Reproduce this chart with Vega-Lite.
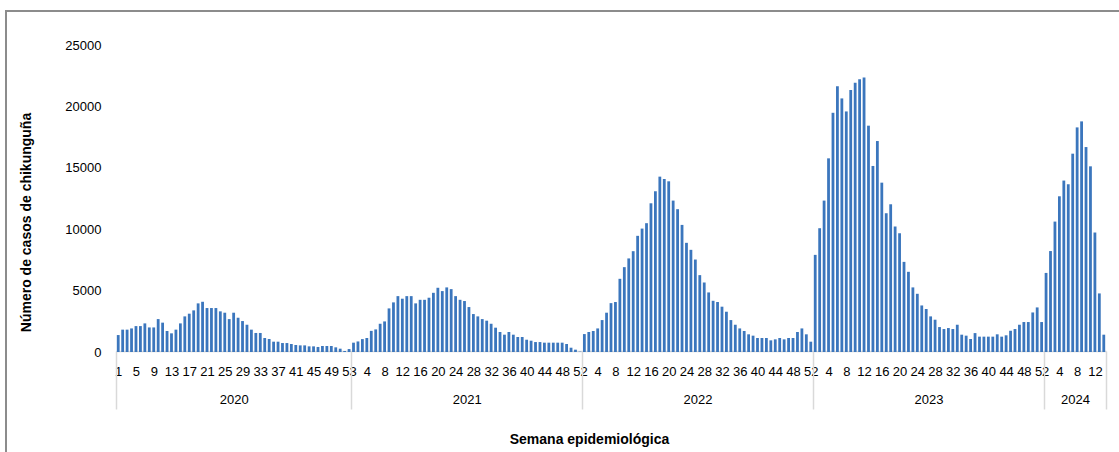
{
  "$schema": "https://vega.github.io/schema/vega-lite/v6.json",
  "width": 1120,
  "height": 450,
  "autosize": {"type": "none"},
  "padding": {"left": 6, "top": 11, "right": 0, "bottom": 0},
  "background": "white",
  "config": {
    "view": {"stroke": "#8c8c8c", "strokeWidth": 2},
    "font": "Liberation Sans",
    "axis": {"labelFont": "Liberation Sans", "titleFont": "Liberation Sans", "labelColor": "#000000", "titleColor": "#000000"}
  },
  "data": {"values": [
    {"year":2020,"week":1,"i":1,"cases":1380},{"year":2020,"week":2,"i":2,"cases":1820},{"year":2020,"week":3,"i":3,"cases":1820},{"year":2020,"week":4,"i":4,"cases":1920},{"year":2020,"week":5,"i":5,"cases":2110},{"year":2020,"week":6,"i":6,"cases":2110},{"year":2020,"week":7,"i":7,"cases":2330},{"year":2020,"week":8,"i":8,"cases":2000},{"year":2020,"week":9,"i":9,"cases":2000},{"year":2020,"week":10,"i":10,"cases":2680},
    {"year":2020,"week":11,"i":11,"cases":2390},{"year":2020,"week":12,"i":12,"cases":1710},{"year":2020,"week":13,"i":13,"cases":1520},{"year":2020,"week":14,"i":14,"cases":1820},{"year":2020,"week":15,"i":15,"cases":2330},{"year":2020,"week":16,"i":16,"cases":2900},{"year":2020,"week":17,"i":17,"cases":3120},{"year":2020,"week":18,"i":18,"cases":3390},{"year":2020,"week":19,"i":19,"cases":3960},{"year":2020,"week":20,"i":20,"cases":4090},
    {"year":2020,"week":21,"i":21,"cases":3580},{"year":2020,"week":22,"i":22,"cases":3580},{"year":2020,"week":23,"i":23,"cases":3580},{"year":2020,"week":24,"i":24,"cases":3310},{"year":2020,"week":25,"i":25,"cases":3200},{"year":2020,"week":26,"i":26,"cases":2680},{"year":2020,"week":27,"i":27,"cases":3200},{"year":2020,"week":28,"i":28,"cases":2790},{"year":2020,"week":29,"i":29,"cases":2520},{"year":2020,"week":30,"i":30,"cases":2220},
    {"year":2020,"week":31,"i":31,"cases":1820},{"year":2020,"week":32,"i":32,"cases":1550},{"year":2020,"week":33,"i":33,"cases":1550},{"year":2020,"week":34,"i":34,"cases":1140},{"year":2020,"week":35,"i":35,"cases":1060},{"year":2020,"week":36,"i":36,"cases":840},{"year":2020,"week":37,"i":37,"cases":840},{"year":2020,"week":38,"i":38,"cases":730},{"year":2020,"week":39,"i":39,"cases":730},{"year":2020,"week":40,"i":40,"cases":650},
    {"year":2020,"week":41,"i":41,"cases":570},{"year":2020,"week":42,"i":42,"cases":540},{"year":2020,"week":43,"i":43,"cases":540},{"year":2020,"week":44,"i":44,"cases":460},{"year":2020,"week":45,"i":45,"cases":460},{"year":2020,"week":46,"i":46,"cases":410},{"year":2020,"week":47,"i":47,"cases":490},{"year":2020,"week":48,"i":48,"cases":490},{"year":2020,"week":49,"i":49,"cases":490},{"year":2020,"week":50,"i":50,"cases":380},
    {"year":2020,"week":51,"i":51,"cases":270},{"year":2020,"week":52,"i":52,"cases":80},{"year":2020,"week":53,"i":53,"cases":240},
    {"year":2021,"week":1,"i":54,"cases":760},{"year":2021,"week":2,"i":55,"cases":860},{"year":2021,"week":3,"i":56,"cases":1050},{"year":2021,"week":4,"i":57,"cases":1140},{"year":2021,"week":5,"i":58,"cases":1720},{"year":2021,"week":6,"i":59,"cases":1840},{"year":2021,"week":7,"i":60,"cases":2300},{"year":2021,"week":8,"i":61,"cases":2490},{"year":2021,"week":9,"i":62,"cases":3550},{"year":2021,"week":10,"i":63,"cases":4040},
    {"year":2021,"week":11,"i":64,"cases":4550},{"year":2021,"week":12,"i":65,"cases":4340},{"year":2021,"week":13,"i":66,"cases":4550},{"year":2021,"week":14,"i":67,"cases":4550},{"year":2021,"week":15,"i":68,"cases":3960},{"year":2021,"week":16,"i":69,"cases":4250},{"year":2021,"week":17,"i":70,"cases":4250},{"year":2021,"week":18,"i":71,"cases":4420},{"year":2021,"week":19,"i":72,"cases":4820},{"year":2021,"week":20,"i":73,"cases":5230},
    {"year":2021,"week":21,"i":74,"cases":4960},{"year":2021,"week":22,"i":75,"cases":5260},{"year":2021,"week":23,"i":76,"cases":5120},{"year":2021,"week":24,"i":77,"cases":4550},{"year":2021,"week":25,"i":78,"cases":4250},{"year":2021,"week":26,"i":79,"cases":4150},{"year":2021,"week":27,"i":80,"cases":3660},{"year":2021,"week":28,"i":81,"cases":3090},{"year":2021,"week":29,"i":82,"cases":2900},{"year":2021,"week":30,"i":83,"cases":2680},
    {"year":2021,"week":31,"i":84,"cases":2550},{"year":2021,"week":32,"i":85,"cases":2300},{"year":2021,"week":33,"i":86,"cases":1980},{"year":2021,"week":34,"i":87,"cases":1630},{"year":2021,"week":35,"i":88,"cases":1410},{"year":2021,"week":36,"i":89,"cases":1630},{"year":2021,"week":37,"i":90,"cases":1410},{"year":2021,"week":38,"i":91,"cases":1220},{"year":2021,"week":39,"i":92,"cases":1220},{"year":2021,"week":40,"i":93,"cases":1000},
    {"year":2021,"week":41,"i":94,"cases":920},{"year":2021,"week":42,"i":95,"cases":810},{"year":2021,"week":43,"i":96,"cases":810},{"year":2021,"week":44,"i":97,"cases":760},{"year":2021,"week":45,"i":98,"cases":760},{"year":2021,"week":46,"i":99,"cases":760},{"year":2021,"week":47,"i":100,"cases":760},{"year":2021,"week":48,"i":101,"cases":760},{"year":2021,"week":49,"i":102,"cases":650},{"year":2021,"week":50,"i":103,"cases":350},
    {"year":2021,"week":51,"i":104,"cases":190},{"year":2021,"week":52,"i":105,"cases":30},
    {"year":2022,"week":1,"i":106,"cases":1460},{"year":2022,"week":2,"i":107,"cases":1630},{"year":2022,"week":3,"i":108,"cases":1710},{"year":2022,"week":4,"i":109,"cases":1920},{"year":2022,"week":5,"i":110,"cases":2600},{"year":2022,"week":6,"i":111,"cases":3200},{"year":2022,"week":7,"i":112,"cases":3980},{"year":2022,"week":8,"i":113,"cases":4070},{"year":2022,"week":9,"i":114,"cases":5960},{"year":2022,"week":10,"i":115,"cases":6910},
    {"year":2022,"week":11,"i":116,"cases":7620},{"year":2022,"week":12,"i":117,"cases":8210},{"year":2022,"week":13,"i":118,"cases":9460},{"year":2022,"week":14,"i":119,"cases":10050},{"year":2022,"week":15,"i":120,"cases":10490},{"year":2022,"week":16,"i":121,"cases":12110},{"year":2022,"week":17,"i":122,"cases":13090},{"year":2022,"week":18,"i":123,"cases":14280},{"year":2022,"week":19,"i":124,"cases":14090},{"year":2022,"week":20,"i":125,"cases":13900},
    {"year":2022,"week":21,"i":126,"cases":12330},{"year":2022,"week":22,"i":127,"cases":11630},{"year":2022,"week":23,"i":128,"cases":10350},{"year":2022,"week":24,"i":129,"cases":8890},{"year":2022,"week":25,"i":130,"cases":8320},{"year":2022,"week":26,"i":131,"cases":7530},{"year":2022,"week":27,"i":132,"cases":6260},{"year":2022,"week":28,"i":133,"cases":5660},{"year":2022,"week":29,"i":134,"cases":4850},{"year":2022,"week":30,"i":135,"cases":4170},
    {"year":2022,"week":31,"i":136,"cases":4070},{"year":2022,"week":32,"i":137,"cases":3690},{"year":2022,"week":33,"i":138,"cases":3280},{"year":2022,"week":34,"i":139,"cases":2600},{"year":2022,"week":35,"i":140,"cases":2220},{"year":2022,"week":36,"i":141,"cases":1920},{"year":2022,"week":37,"i":142,"cases":1710},{"year":2022,"week":38,"i":143,"cases":1440},{"year":2022,"week":39,"i":144,"cases":1330},{"year":2022,"week":40,"i":145,"cases":1140},
    {"year":2022,"week":41,"i":146,"cases":1140},{"year":2022,"week":42,"i":147,"cases":1140},{"year":2022,"week":43,"i":148,"cases":950},{"year":2022,"week":44,"i":149,"cases":1030},{"year":2022,"week":45,"i":150,"cases":1140},{"year":2022,"week":46,"i":151,"cases":1030},{"year":2022,"week":47,"i":152,"cases":1140},{"year":2022,"week":48,"i":153,"cases":1140},{"year":2022,"week":49,"i":154,"cases":1630},{"year":2022,"week":50,"i":155,"cases":1920},
    {"year":2022,"week":51,"i":156,"cases":1440},{"year":2022,"week":52,"i":157,"cases":840},
    {"year":2023,"week":1,"i":158,"cases":7910},{"year":2023,"week":2,"i":159,"cases":10080},{"year":2023,"week":3,"i":160,"cases":12330},{"year":2023,"week":4,"i":161,"cases":15770},{"year":2023,"week":5,"i":162,"cases":19480},{"year":2023,"week":6,"i":163,"cases":21650},{"year":2023,"week":7,"i":164,"cases":20650},{"year":2023,"week":8,"i":165,"cases":19590},{"year":2023,"week":9,"i":166,"cases":21330},{"year":2023,"week":10,"i":167,"cases":21920},
    {"year":2023,"week":11,"i":168,"cases":22220},{"year":2023,"week":12,"i":169,"cases":22360},{"year":2023,"week":13,"i":170,"cases":18430},{"year":2023,"week":14,"i":171,"cases":15150},{"year":2023,"week":15,"i":172,"cases":17180},{"year":2023,"week":16,"i":173,"cases":13790},{"year":2023,"week":17,"i":174,"cases":11300},{"year":2023,"week":18,"i":175,"cases":12030},{"year":2023,"week":19,"i":176,"cases":10220},{"year":2023,"week":20,"i":177,"cases":9670},
    {"year":2023,"week":21,"i":178,"cases":7340},{"year":2023,"week":22,"i":179,"cases":6530},{"year":2023,"week":23,"i":180,"cases":5260},{"year":2023,"week":24,"i":181,"cases":4740},{"year":2023,"week":25,"i":182,"cases":3790},{"year":2023,"week":26,"i":183,"cases":3500},{"year":2023,"week":27,"i":184,"cases":2900},{"year":2023,"week":28,"i":185,"cases":2630},{"year":2023,"week":29,"i":186,"cases":2030},{"year":2023,"week":30,"i":187,"cases":1870},
    {"year":2023,"week":31,"i":188,"cases":1950},{"year":2023,"week":32,"i":189,"cases":1870},{"year":2023,"week":33,"i":190,"cases":2220},{"year":2023,"week":34,"i":191,"cases":1410},{"year":2023,"week":35,"i":192,"cases":1330},{"year":2023,"week":36,"i":193,"cases":1060},{"year":2023,"week":37,"i":194,"cases":1540},{"year":2023,"week":38,"i":195,"cases":1250},{"year":2023,"week":39,"i":196,"cases":1250},{"year":2023,"week":40,"i":197,"cases":1250},
    {"year":2023,"week":41,"i":198,"cases":1250},{"year":2023,"week":42,"i":199,"cases":1440},{"year":2023,"week":43,"i":200,"cases":1250},{"year":2023,"week":44,"i":201,"cases":1360},{"year":2023,"week":45,"i":202,"cases":1730},{"year":2023,"week":46,"i":203,"cases":1870},{"year":2023,"week":47,"i":204,"cases":2220},{"year":2023,"week":48,"i":205,"cases":2440},{"year":2023,"week":49,"i":206,"cases":2440},{"year":2023,"week":50,"i":207,"cases":3220},
    {"year":2023,"week":51,"i":208,"cases":3630},{"year":2023,"week":52,"i":209,"cases":2440},
    {"year":2024,"week":1,"i":210,"cases":6440},{"year":2024,"week":2,"i":211,"cases":8220},{"year":2024,"week":3,"i":212,"cases":10620},{"year":2024,"week":4,"i":213,"cases":12680},{"year":2024,"week":5,"i":214,"cases":13960},{"year":2024,"week":6,"i":215,"cases":13660},{"year":2024,"week":7,"i":216,"cases":16150},{"year":2024,"week":8,"i":217,"cases":18290},{"year":2024,"week":9,"i":218,"cases":18780},{"year":2024,"week":10,"i":219,"cases":16690},
    {"year":2024,"week":11,"i":220,"cases":15120},{"year":2024,"week":12,"i":221,"cases":9730},{"year":2024,"week":13,"i":222,"cases":4770},{"year":2024,"week":14,"i":223,"cases":1410}
  ]},
  "layer": [
    {
      "mark": {"type": "bar", "width": 2.8, "color": "#3b76bd"},
      "encoding": {
        "x": {
          "field": "i", "type": "quantitative",
          "scale": {"domain": [0.5, 223.5], "range": [110, 1100], "padding": 0, "nice": false, "zero": false},
          "axis": {
            "orient": "bottom", "offset": -110,
            "values": [1,5,9,13,17,21,25,29,33,37,41,45,49,53,57,61,65,69,73,77,81,85,89,93,97,101,105,109,113,117,121,125,129,133,137,141,145,149,153,157,161,165,169,173,177,181,185,189,193,197,201,205,209,213,217,221],
            "labelExpr": "'' + (datum.value <= 53 ? datum.value : ((datum.value - 54) % 52) + 1)",
            "ticks": false, "tickSize": 0, "grid": false,
            "domain": true, "domainColor": "#d9d9d9", "domainWidth": 1.5,
            "labelPadding": 14, "labelFontSize": 13, "labelFlush": false, "labelOverlap": false, "labelBound": false,
            "title": "Semana epidemiológica", "titleFontSize": 14, "titleFontWeight": "bold",
            "titleX": 583, "titleY": 92, "titleAnchor": null, "titleAlign": "center", "titleBaseline": "alphabetic"
          }
        },
        "y": {
          "field": "cases", "type": "quantitative",
          "scale": {"domain": [0, 25000], "range": [341, 34], "padding": 0, "nice": false, "zero": true},
          "axis": {
            "orient": "left", "offset": -110,
            "values": [0, 5000, 10000, 15000, 20000, 25000], "format": "d",
            "ticks": false, "tickSize": 0, "domain": false, "grid": false,
            "labelPadding": 15, "labelFontSize": 13,
            "title": "Número de casos de chikunguña", "titleFontSize": 14, "titleFontWeight": "bold",
            "titleAngle": -90, "titleX": -90, "titleY": 211, "titleAlign": "center", "titleBaseline": "middle"
          }
        }
      }
    },
    {
      "mark": {"type": "point", "opacity": 0},
      "encoding": {
        "x": {
          "field": "i", "type": "quantitative",
          "scale": {"domain": [0.5, 223.5], "range": [110, 1100], "padding": 0, "nice": false, "zero": false},
          "axis": {
            "orient": "bottom", "offset": -110,
            "values": [0.5, 53.5, 105.5, 157.5, 209.5, 223.5],
            "labels": false, "domain": false, "grid": false,
            "ticks": true, "tickSize": 58, "tickColor": "#d9d9d9", "tickWidth": 1.5,
            "title": null
          }
        }
      }
    },
    {
      "mark": {"type": "point", "opacity": 0},
      "encoding": {
        "x": {
          "field": "i", "type": "quantitative",
          "scale": {"domain": [0.5, 223.5], "range": [110, 1100], "padding": 0, "nice": false, "zero": false},
          "axis": {
            "orient": "bottom", "offset": -110,
            "values": [27, 79.5, 131.5, 183.5, 216.5],
            "labelExpr": "datum.value < 53 ? '2020' : datum.value < 105 ? '2021' : datum.value < 157 ? '2022' : datum.value < 209 ? '2023' : '2024'",
            "ticks": false, "tickSize": 0, "domain": false, "grid": false,
            "labelPadding": 42, "labelFontSize": 13, "labelFlush": false, "labelOverlap": false,
            "title": null
          }
        }
      }
    }
  ],
  "resolve": {"axis": {"x": "independent"}}
}
